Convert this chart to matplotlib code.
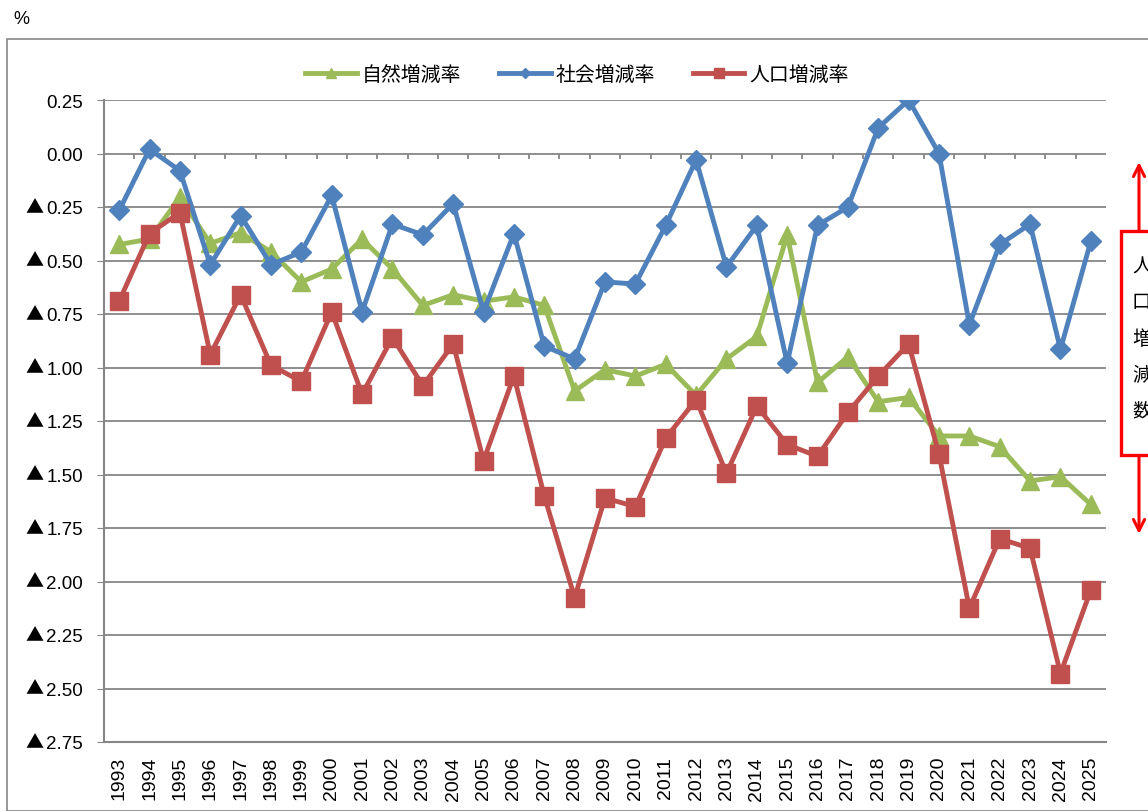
import matplotlib.pyplot as plt
from matplotlib.patches import Rectangle
from matplotlib.ticker import FuncFormatter

plt.rcParams['font.family'] = ['Liberation Sans', 'Noto Sans CJK JP', 'DejaVu Sans']

# data
years = list(range(1993, 2026))
natural = [-0.425, -0.40, -0.205, -0.42, -0.37, -0.46, -0.60, -0.54, -0.40, -0.54,
           -0.71, -0.66, -0.69, -0.67, -0.71, -1.11, -1.01, -1.04, -0.985, -1.13,
           -0.96, -0.855, -0.38, -1.07, -0.95, -1.16, -1.14, -1.32, -1.32, -1.37,
           -1.53, -1.51, -1.64]
social = [-0.266, 0.02, -0.08, -0.52, -0.29, -0.52, -0.46, -0.196, -0.74, -0.33,
          -0.38, -0.234, -0.74, -0.374, -0.90, -0.96, -0.60, -0.61, -0.336, -0.03,
          -0.53, -0.336, -0.98, -0.336, -0.25, 0.12, 0.25, 0.0, -0.80, -0.425,
          -0.33, -0.915, -0.41]
population = [-0.69, -0.374, -0.276, -0.94, -0.66, -0.99, -1.065, -0.74, -1.125, -0.86,
              -1.085, -0.89, -1.435, -1.04, -1.60, -2.075, -1.61, -1.65, -1.33, -1.15,
              -1.495, -1.18, -1.36, -1.415, -1.21, -1.04, -0.89, -1.405, -2.125, -1.80,
              -1.845, -2.43, -2.04]
labels = ['自然増減率', '社会増減率', '人口増減率']
colors = ['#9BBB59', '#4F81BD', '#C0504D']
y_ticks = [0.25 - 0.25 * i for i in range(13)]

W, H = 1148, 812
fig = plt.figure(figsize=(W / 100, H / 100), dpi=100)
ax = fig.add_axes([104 / W, (H - 743) / H, (1106 - 104) / W, (743 - 101) / H])

x = list(range(len(years)))
ax.plot(x, natural, color=colors[0], lw=3.5, marker='^', ms=13, label=labels[0], zorder=3)
ax.plot(x, social, color=colors[1], lw=3.5, marker='D', ms=10, label=labels[1], zorder=3)
ax.plot(x, population, color=colors[2], lw=3.5, marker='s', ms=12.5, label=labels[2], zorder=3)

ax.set_xlim(-0.5, len(years) - 0.5)
ax.set_ylim(-2.75, 0.25)
ax.set_yticks(y_ticks)
ax.yaxis.set_major_formatter(FuncFormatter(lambda v, p: f'{abs(v):.2f}'))
ax.set_xticks(x)
ax.set_xticklabels([str(y) for y in years], rotation=90, fontsize=14)
ax.tick_params(axis='x', length=0, pad=10)
ax.tick_params(axis='y', length=5, color='#868686', labelsize=13.5, pad=10)
ax.grid(axis='y', color='#868686', lw=1.3)
ax.set_axisbelow(True)
for s in ['top', 'right']:
    ax.spines[s].set_visible(False)
for s in ['left', 'bottom']:
    ax.spines[s].set_color('#868686')
    ax.spines[s].set_linewidth(1.5)

# ▲ marks for negative values
for v in y_ticks:
    if v < 0:
        ax.text(-0.078, v, '▲', transform=ax.get_yaxis_transform(), fontsize=13,
                family=['Noto Sans CJK JP'], ha='left', va='center')

# category boundary ticks on the zero line
ax.vlines([i + 0.5 for i in x[:-1]], 0, -0.024, color='#868686', lw=1.3, zorder=1)

ax.legend(loc='center', bbox_to_anchor=(577 / W, 1 - 75 / H), bbox_transform=fig.transFigure,
          ncol=3, frameon=False, fontsize=14.3, handlelength=2.6, markerscale=0.55,
          columnspacing=1.9, handletextpad=0.25)

# chart frame and percent label
fig.patches.append(Rectangle((7, 0), W, H - 40, transform=None, fill=False,
                             ec='#868686', lw=1.2))
fig.text(13 / W, 1 - 20 / H, '%', fontsize=13, va='center', ha='left')

# annotation arrow and box on the right
ax.annotate('', xy=(1139, H - 163), xytext=(1139, H - 535), xycoords='figure pixels',
            textcoords='figure pixels',
            arrowprops=dict(arrowstyle='<->,head_length=0.8,head_width=0.4',
                            color='red', lw=2.2, shrinkA=0, shrinkB=0))
fig.patches.append(Rectangle((1121, H - 456), 60, 224, transform=None, fc='white',
                             ec='red', lw=2.4, zorder=5))
for i, ch in enumerate('人口増減数'):
    fig.text(1132 / W, 1 - (268 + 36 * i) / H, ch, fontsize=14, va='center', ha='left',
             zorder=6)

fig.savefig('out.png', dpi=100)
